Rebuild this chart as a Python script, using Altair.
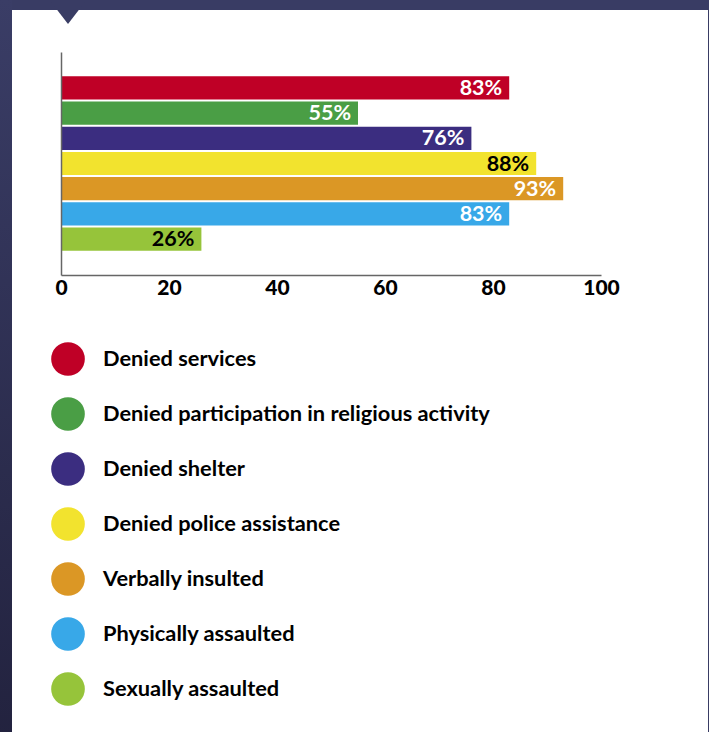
import altair as alt
import pandas as pd

categories = [
    "Denied services",
    "Denied participation in religious activity",
    "Denied shelter",
    "Denied police assistance",
    "Verbally insulted",
    "Physically assaulted",
    "Sexually assaulted",
]
values = [83, 55, 76, 88, 93, 83, 26]
bar_colors = ["#bf0026", "#4a9e45", "#3b2d80", "#f2e32e", "#db9725", "#38a8e8", "#96c43a"]
label_colors = ["white", "white", "white", "black", "white", "white", "black"]
x_ticks = [0, 20, 40, 60, 80, 100]

df = pd.DataFrame({
    "category": categories,
    "value": values,
    "label": [f"{v}%" for v in values],
    "label_color": label_colors,
})

NAVY = "#393c64"
FONT = "Lato"

one = pd.DataFrame({"a": [0]})

# decorative white card and frame
card = alt.Chart(one).mark_rect(color="white").encode(
    x=alt.value(-49), x2=alt.value(647), y=alt.value(-42), y2=alt.value(700)
)
left_strip = alt.Chart(one).mark_rect(
    color=alt.Gradient(
        gradient="linear",
        stops=[alt.GradientStop(color="#3a3d66", offset=0),
               alt.GradientStop(color="#22223e", offset=1)],
        x1=0, x2=0, y1=0, y2=1,
    )
).encode(x=alt.value(-61), x2=alt.value(-49), y=alt.value(-52), y2=alt.value(700))
notch = alt.Chart(one).mark_point(
    shape="M -1 -0.6 L 1 -0.6 L 0 0.7 Z", filled=True, opacity=1, size=1600,
    color=NAVY, strokeWidth=0,
).encode(x=alt.value(7), y=alt.value(-42))

y_enc = alt.Y(
    "category:N", sort=categories,
    scale=alt.Scale(paddingInner=0.08, paddingOuter=0.96),
    axis=alt.Axis(labels=False, ticks=False, title=None, domainColor="#666",
                  domainWidth=1.5, zindex=2),
)

bars = alt.Chart(df).mark_bar().encode(
    y=y_enc,
    x=alt.X(
        "value:Q", scale=alt.Scale(domain=[0, 100], nice=False),
        axis=alt.Axis(values=x_ticks, ticks=False, grid=False, title=None,
                      domainColor="#666", domainWidth=1.5, labelFont=FONT,
                      labelFontSize=21, labelFontWeight=900, labelColor="black",
                      labelPadding=2, labelFlush=False, zindex=2),
    ),
    color=alt.Color(
        "category:N", sort=categories,
        scale=alt.Scale(domain=categories, range=bar_colors),
        legend=alt.Legend(
            title=None, orient="none", legendX=-10, legendY=290,
            symbolType="circle", symbolSize=1134, symbolStrokeWidth=0,
            labelFont=FONT, labelFontSize=21.8, labelFontWeight="bold", labelColor="black",
            labelOffset=18, rowPadding=21, labelLimit=700, padding=0,
            symbolOpacity=1, zindex=2,
        ),
    ),
)

labels = alt.Chart(df).mark_text(
    align="right", baseline="middle", dx=-7, dy=1, font=FONT, fontSize=21.5, fontWeight="bold"
).encode(
    y=alt.Y("category:N", sort=categories),
    x=alt.X("value:Q"),
    text="label:N",
    color=alt.Color("label_color:N", scale=None),
)

chart = alt.layer(left_strip, card, notch, bars, labels).properties(
    width=540, height=223,
    background=NAVY,
    autosize=alt.AutoSizeParams(type="none"),
    padding={"left": 61, "top": 52, "right": 108, "bottom": 457},
).configure_view(stroke=None)

chart.save("out.html", embed_options={"renderer": "svg", "actions": False})
